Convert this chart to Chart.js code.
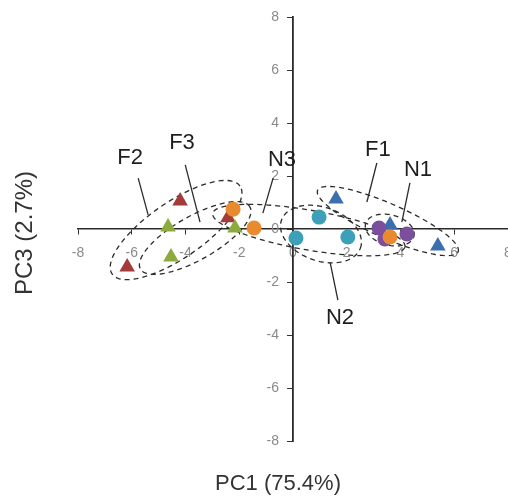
<!DOCTYPE html>
<html>
<head>
<meta charset="utf-8">
<script src="https://cdn.jsdelivr.net/npm/chart.js@4"></script>
<style>
  html, body { margin: 0; padding: 0; background: #fff; }
  canvas { display: block; }
</style>
</head>
<body>
<canvas id="pca" width="508" height="497"></canvas>
<script>
// PCA score plot, PC1 vs PC3

const xTicks = [-8, -6, -4, -2, 0, 2, 4, 6, 8];
const yTicks = [-8, -6, -4, -2, 0, 2, 4, 6, 8];

// groups (x = PC1, y = PC3)
const redX    = [-4.2, -6.17, -2.42];
const redY    = [1.06, -1.43, 0.42];
const greenX  = [-4.65, -4.54, -2.16];
const greenY  = [0.08, -1.06, 0.04];
const orangeX = [-2.23, -1.45, 3.61];
const orangeY = [0.75, 0.04, -0.3];
const tealX   = [0.11, 0.97, 2.04];
const tealY   = [-0.34, 0.45, -0.3];
const blueX   = [1.6, 5.39, 3.61];
const blueY   = [1.13, -0.64, 0.15];
const purpleX = [3.2, 3.42, 4.24];
const purpleY = [0.04, -0.38, -0.19];

// dashed group ellipses: centre, semi-axes (data units), tilt in degrees
const ellName  = ['F2', 'F3', 'N3', 'N2', 'F1', 'N1'];
const ellCx    = [-4.35, -3.64, 0.59, 1.04, 3.53, 3.6];
const ellCy    = [-0.04, -0.34, -0.04, -0.19, 0.3, -0.04];
const ellRx    = [2.9, 2.35, 3.63, 1.56, 2.86, 0.93];
const ellRy    = [1.05, 0.82, 0.75, 1.01, 0.65, 0.57];
const ellAngle = [35, 30, -10, -20, -24, -15];

// group labels and their leader lines
const labelText = ['F2', 'F3', 'N3', 'F1', 'N1', 'N2'];
const labelX    = [-6.06, -4.13, -0.41, 3.16, 4.65, 1.75];
const labelY    = [2.68, 3.25, 2.6, 2.98, 2.23, -3.36];
const leadX1    = [-5.76, -4.01, -0.74, 3.12, 4.35, 1.38];
const leadY1    = [1.92, 2.42, 1.92, 2.49, 1.74, -1.25];
const leadX2    = [-5.39, -3.46, -1.12, 2.75, 4.05, 1.67];
const leadY2    = [0.53, 0.26, 0.6, 1.02, 0.26, -2.68];

// plot box in canvas pixels
const AREA = { left: 78, right: 508, top: 17, bottom: 441 };

const pts = (xs, ys) => xs.map((x, i) => ({ x: x, y: ys[i] }));

const groupPlugin = {
    id: 'groups',
    afterLayout(chart) {
        // centred axes leave some slack on the right; pin the plot box
        const a = chart.chartArea;
        Object.assign(a, AREA, { width: AREA.right - AREA.left, height: AREA.bottom - AREA.top });
        const { x, y } = chart.scales;
        x.left = AREA.left; x.right = AREA.right; x.width = AREA.right - AREA.left;
        y.top = AREA.top; y.bottom = AREA.bottom; y.height = AREA.bottom - AREA.top;
        x.configure();
        y.configure();
    },
    beforeDatasetsDraw(chart) {
        const { ctx, scales: { x, y } } = chart;
        ctx.save();
        // ellipses
        ctx.strokeStyle = '#2b2b2b';
        ctx.lineWidth = 1.3;
        ctx.setLineDash([5, 4]);
        ellName.forEach((n, i) => {
            const a = ellAngle[i] * Math.PI / 180;
            ctx.beginPath();
            for (let k = 0; k <= 120; k++) {
                const t = k / 120 * Math.PI * 2;
                const ex = ellRx[i] * Math.cos(t), ey = ellRy[i] * Math.sin(t);
                const dx = ellCx[i] + ex * Math.cos(a) - ey * Math.sin(a);
                const dy = ellCy[i] + ex * Math.sin(a) + ey * Math.cos(a);
                const px = x.getPixelForValue(dx), py = y.getPixelForValue(dy);
                if (k === 0) ctx.moveTo(px, py); else ctx.lineTo(px, py);
            }
            ctx.closePath();
            ctx.stroke();
        });
        // leader lines
        ctx.setLineDash([]);
        ctx.lineWidth = 1.3;
        labelText.forEach((s, i) => {
            ctx.beginPath();
            ctx.moveTo(x.getPixelForValue(leadX1[i]), y.getPixelForValue(leadY1[i]));
            ctx.lineTo(x.getPixelForValue(leadX2[i]), y.getPixelForValue(leadY2[i]));
            ctx.stroke();
        });
        // labels
        ctx.fillStyle = '#1e1e1e';
        ctx.font = '22px "Liberation Sans", Arial, sans-serif';
        ctx.textAlign = 'center';
        ctx.textBaseline = 'middle';
        labelText.forEach((s, i) => {
            ctx.fillText(s, x.getPixelForValue(labelX[i]), y.getPixelForValue(labelY[i]));
        });
        ctx.restore();
    },
    afterDraw(chart) {
        const { ctx } = chart;
        ctx.save();
        ctx.fillStyle = '#333';
        ctx.textAlign = 'center';
        ctx.textBaseline = 'middle';
        ctx.font = '22px "Liberation Sans", Arial, sans-serif';
        ctx.fillText('PC1 (75.4%)', 278, 484);
        ctx.font = '24px "Liberation Sans", Arial, sans-serif';
        ctx.translate(25, 233);
        ctx.rotate(-Math.PI / 2);
        ctx.fillText('PC3 (2.7%)', 0, 0);
        ctx.restore();
    }
};

const tickFont = { family: '"Liberation Sans", Arial, sans-serif', size: 14 };
const tri = (label, xs, ys, color) => ({
    label, data: pts(xs, ys), pointStyle: 'triangle', pointRadius: 9,
    backgroundColor: color, borderWidth: 0
});
const dot = (label, xs, ys, color) => ({
    label, data: pts(xs, ys), pointStyle: 'circle', pointRadius: 7.5,
    backgroundColor: color, borderWidth: 0
});

new Chart(document.getElementById('pca'), {
    type: 'scatter',
    data: {
        // first dataset ends up drawn on top
        datasets: [
            dot('orange', orangeX, orangeY, '#ea8a2e'),
            dot('purple', purpleX, purpleY, '#7b4f9e'),
            tri('green', greenX, greenY, '#8dab3c'),
            tri('red', redX, redY, '#a33b3b'),
            dot('teal', tealX, tealY, '#3ba0b8'),
            tri('blue', blueX, blueY, '#3b6fad')
        ]
    },
    options: {
        responsive: false,
        animation: false,
        layout: { autoPadding: false, padding: { left: 78, right: 0, top: 17, bottom: 56 } },
        plugins: { legend: { display: false }, tooltip: { enabled: false } },
        scales: {
            x: {
                type: 'linear', min: -8, max: 8, position: { y: 0 },
                afterBuildTicks: (s) => { s.ticks = xTicks.map(v => ({ value: v })); },
                ticks: { font: tickFont, color: '#8a8a8a', padding: 11, maxRotation: 0 },
                grid: { drawOnChartArea: false, drawTicks: true, tickLength: 5, tickColor: '#333' },
                border: { display: true, color: '#2a2a2a', width: 1.5 }
            },
            y: {
                type: 'linear', min: -8, max: 8, position: { x: 0 },
                afterBuildTicks: (s) => { s.ticks = yTicks.map(v => ({ value: v })); },
                // labels sit right-aligned on the axis line, so push them left
                ticks: { font: tickFont, color: '#8a8a8a', padding: 8,
                         callback: (v) => v + '\u2002\u2002' },
                grid: { drawOnChartArea: false, drawTicks: true, tickLength: 5, tickColor: '#333' },
                border: { display: true, color: '#2a2a2a', width: 1.8 }
            }
        }
    },
    plugins: [groupPlugin]
});
</script>
</body>
</html>
